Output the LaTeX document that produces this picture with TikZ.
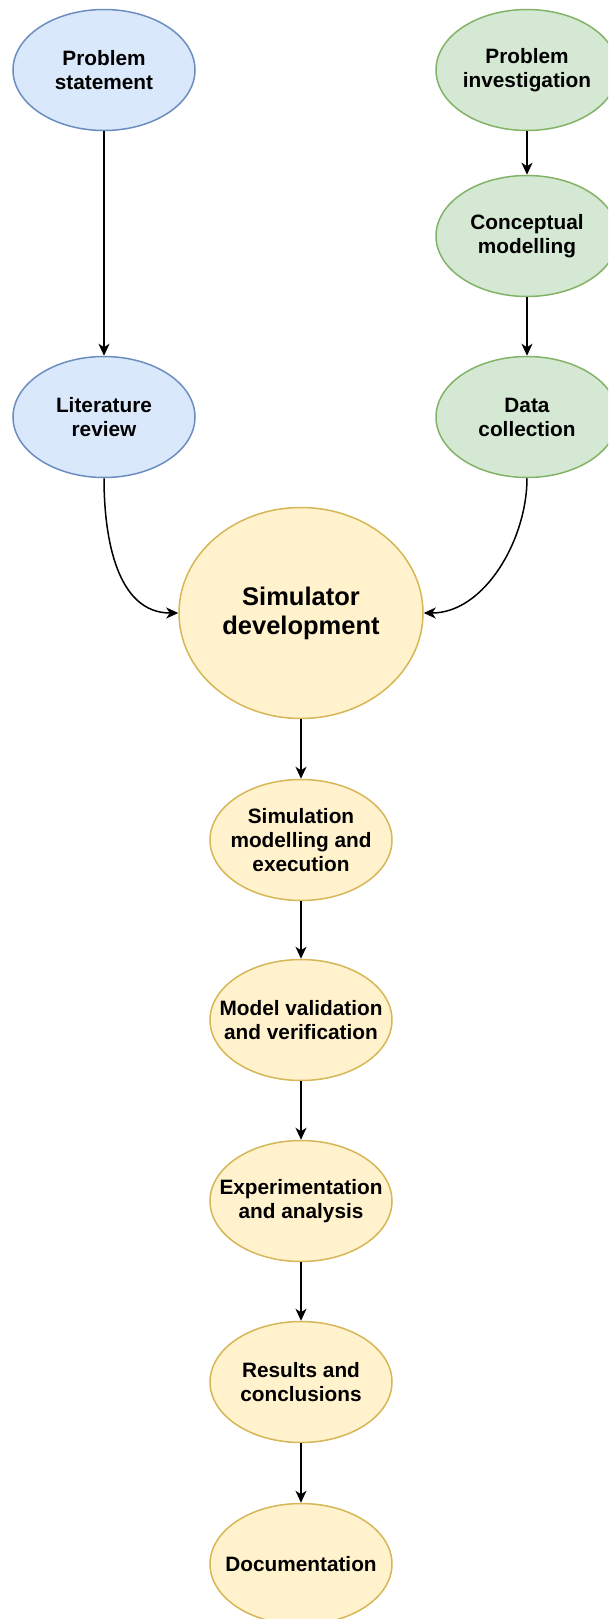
\documentclass[tikz,border=0pt]{standalone}
\usepackage{fontspec}
\setmainfont{Liberation Sans}
\usetikzlibrary{arrows.meta,shapes.geometric}

\definecolor{bluefill}{HTML}{DAE8FC}
\definecolor{bluedraw}{HTML}{6C8EBF}
\definecolor{greenfill}{HTML}{D5E8D4}
\definecolor{greendraw}{HTML}{82B366}
\definecolor{yellowfill}{HTML}{FFF2CC}
\definecolor{yellowdraw}{HTML}{D6B656}

\tikzset{
  stage/.style={ellipse, line width=1.5pt, inner sep=0pt,
    minimum width=182pt, minimum height=121pt},
  bluestage/.style={stage, fill=bluefill, draw=bluedraw},
  greenstage/.style={stage, fill=greenfill, draw=greendraw},
  yellowstage/.style={stage, fill=yellowfill, draw=yellowdraw},
  lbl/.style={align=center, inner sep=0pt,
    font=\fontsize{20.8}{24}\selectfont\bfseries},
  biglbl/.style={align=center, inner sep=0pt,
    font=\fontsize{25.5}{29}\selectfont\bfseries},
  flow/.style={line width=1.5pt, draw=black,
    -{Stealth[length=12pt,width=11pt,inset=3.5pt]}}
}

\begin{document}
\begin{tikzpicture}[x=1pt,y=-1pt]
\useasboundingbox (0,0) rectangle (608,1619);
\clip (0,0) rectangle (608,1619);

% left branch
\node[bluestage] (ps) at (104,70) {};
\node[lbl] (ps-l) at (ps) {Problem\\statement};
\node[bluestage] (lr) at (104,417) {};
\node[lbl] (lr-l) at (lr) {Literature\\review};

% right branch
\node[greenstage] (pi) at (527,70) {};
\node[lbl] (pi-l) at (pi) {Problem\\investigation};
\node[greenstage] (cm) at (527,236) {};
\node[lbl] (cm-l) at (cm) {Conceptual\\modelling};
\node[greenstage] (dc) at (527,417) {};
\node[lbl] (dc-l) at (dc) {Data\\collection};

% central chain
\node[yellowstage, minimum width=244pt, minimum height=211pt] (sd) at (301,613) {};
\node[biglbl] (sd-l) at (sd) {Simulator\\development};
\node[yellowstage] (sme) at (301,840) {};
\node[lbl] (sme-l) at (sme) {Simulation\\modelling and\\execution};
\node[yellowstage] (mvv) at (301,1020) {};
\node[lbl] (mvv-l) at (mvv) {Model validation\\and verification};
\node[yellowstage] (ea) at (301,1201) {};
\node[lbl] (ea-l) at (ea) {Experimentation\\and analysis};
\node[yellowstage] (rc) at (301,1382) {};
\node[lbl] (rc-l) at (rc) {Results and\\conclusions};
\node[yellowstage] (doc) at (301,1564) {};
\node[lbl] (doc-l) at (doc) {Documentation};

% connectors
\draw[flow] (ps) -- (lr);
\draw[flow] (pi) -- (cm);
\draw[flow] (cm) -- (dc);
\draw[flow] (lr.south) .. controls +(0,61) and +(-61,0) .. (sd.west);
\draw[flow] (dc.south) .. controls +(0,61) and +(61,0) .. (sd.east);
\draw[flow] (sd) -- (sme);
\draw[flow] (sme) -- (mvv);
\draw[flow] (mvv) -- (ea);
\draw[flow] (ea) -- (rc);
\draw[flow] (rc) -- (doc);
\end{tikzpicture}
\end{document}
